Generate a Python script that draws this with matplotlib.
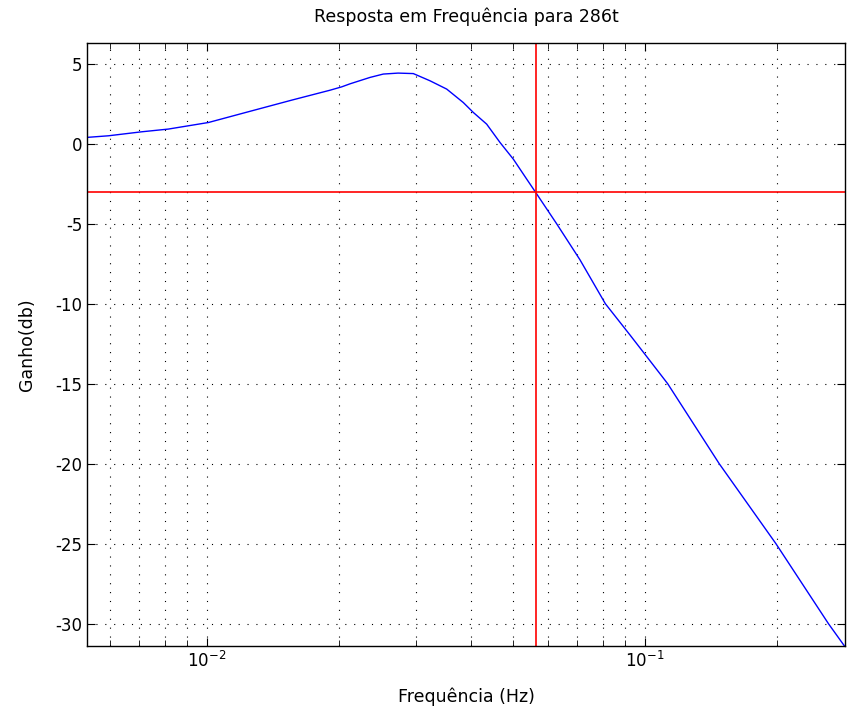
import matplotlib
matplotlib.use("Agg")
import matplotlib.pyplot as plt
import numpy as np

plt.rcParams["axes.unicode_minus"] = False

# frequency response (Hz, dB)
freq = [0.00532, 0.005953, 0.007094, 0.008158, 0.01007, 0.01265, 0.01561, 0.01909,
        0.02030, 0.02121, 0.02356, 0.02526, 0.02730, 0.02958, 0.03229, 0.03526,
        0.03847, 0.04055, 0.04350, 0.04667, 0.05005, 0.05370, 0.05629, 0.06285,
        0.07104, 0.08120, 0.0924, 0.1009, 0.11268, 0.14774, 0.19905, 0.26233, 0.2863]
gain = [0.40, 0.50, 0.75, 0.92, 1.33, 2.06, 2.73, 3.35,
        3.56, 3.75, 4.15, 4.36, 4.42, 4.39, 3.94, 3.42,
        2.58, 1.96, 1.23, 0.08, -0.96, -2.21, -3.04, -5.00,
        -7.25, -10.00, -11.95, -13.30, -15.00, -20.00, -25.00, -30.00, -31.45]

fc = 0.0564      # cut-off frequency
level = -3       # -3 dB line

fig = plt.figure(figsize=(8.49, 7.22), dpi=100)
ax = fig.add_axes([0.1025, 0.1053, 0.8928, 0.8351])

ax.semilogx(freq, gain, color="blue", lw=1.0)
ax.axvline(fc, color="red", lw=1.2)
ax.axhline(level, color="red", lw=1.2)

ax.set_xlim(0.00532, 0.2863)
ax.set_ylim(-31.4, 6.3)
ax.set_yticks(np.arange(-30, 6, 5))

dots = (0, (1, 7))
ax.grid(True, which="major", color="black", ls=dots, lw=0.8)
ax.grid(True, which="minor", axis="x", color="black", ls=dots, lw=0.8)

ax.tick_params(which="both", direction="in", top=True, right=True, labelsize=12)
ax.tick_params(which="major", length=6)
ax.tick_params(which="minor", length=4)
for s in ax.spines.values():
    s.set_linewidth(1.0)

ax.set_title("Resposta em Frequência para 286t", fontsize=12.5, pad=15)
ax.set_xlabel("Frequência (Hz)", fontsize=12.5, labelpad=12)
ax.set_ylabel("Ganho(db)", fontsize=12.5, labelpad=14)

fig.savefig("out.png", dpi=100)
